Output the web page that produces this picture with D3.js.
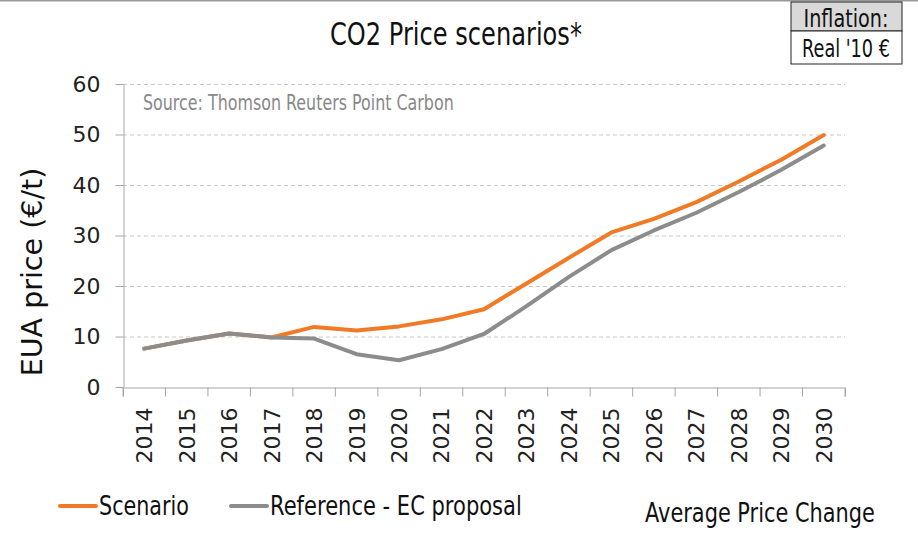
<!DOCTYPE html>
<meta charset="utf-8">
<head>
  <style>
    body { margin: 0; background: #fff; }
    svg text { font-family: "DejaVu Sans", sans-serif; }
    .num { font-size: 22px; fill: #222; }
    .grid line { stroke: #c8c8c8; stroke-dasharray: 4,3; }
    .axis path, .axis line { stroke: #a6a6a6; }
  </style>
  <script src="https://cdn.jsdelivr.net/npm/d3@7"></script>
</head>
<body>
  <svg width="918" height="533"></svg>
  <script>

    var years = ["2014","2015","2016","2017","2018","2019","2020","2021","2022",
                 "2023","2024","2025","2026","2027","2028","2029","2030"]
    var scenario  = [7.6, 9.2, 10.6, 9.8, 11.9, 11.2, 12.0, 13.4, 15.4, 20.5, 25.6, 30.6, 33.3, 36.6, 40.7, 45.0, 49.9]
    var reference = [7.6, 9.2, 10.6, 9.8, 9.6, 6.5, 5.3, 7.5, 10.5, 16.0, 21.8, 27.1, 31.0, 34.5, 38.6, 43.0, 47.8]
    var yTicks = [0, 10, 20, 30, 40, 50, 60]

    var svg = d3.select("svg")

    var x = d3.scaleBand().domain(years).range([123, 845])
    var y = d3.scaleLinear().domain([0, 60]).range([387, 84])

    // the original font is a condensed one: squeeze DejaVu horizontally to the same width
    function narrowText(parent, txt, px, py, size, w, anchor) {
      var t = parent.append("text")
        .attr("font-size", size + "px")
        .attr("text-anchor", anchor || "start")
        .attr("fill", "#111")
        .text(txt)
      var sx = w / t.node().getComputedTextLength()
      t.attr("transform", "translate(" + px + "," + py + ") scale(" + sx + ",1)")
      return t
    }

    // top rule
    svg.append("line")
      .attr("x1", 0).attr("x2", 918).attr("y1", 0.75).attr("y2", 0.75)
      .attr("stroke", "#999").attr("stroke-width", 1.5)

    // title
    narrowText(svg, "CO2 Price scenarios*", 456, 45, 32, 252, "middle")

    // inflation box
    var box = svg.append("g")
    box.append("rect").attr("x", 791).attr("y", 2).attr("width", 111).attr("height", 29)
      .attr("fill", "#d9d9d9").attr("stroke", "#222")
    box.append("rect").attr("x", 791).attr("y", 31).attr("width", 111).attr("height", 33)
      .attr("fill", "#fff").attr("stroke", "#222")
    narrowText(box, "Inflation:", 846, 27, 24, 85, "middle")
    narrowText(box, "Real '10 €", 846, 57, 24, 88, "middle")

    // gridlines
    svg.append("g")
      .attr("class", "grid")
      .selectAll("line")
      .data(yTicks.slice(1))
      .enter().append("line")
      .attr("x1", 123).attr("x2", 845)
      .attr("y1", function(d) { return y(d) + 0.5 })
      .attr("y2", function(d) { return y(d) + 0.5 })

    // y axis
    var yAxis = svg.append("g")
      .attr("class", "axis")
      .attr("transform", "translate(123.5,0)")
      .call(d3.axisLeft(y).tickValues(yTicks).tickSize(8).tickSizeOuter(0).tickPadding(15))
    yAxis.selectAll("text").attr("class", "num").attr("font-size", null).attr("font-family", null)

    // x axis
    var xAxis = svg.append("g")
      .attr("class", "axis")
      .attr("transform", "translate(0,387.5)")
      .call(d3.axisBottom(x).tickSize(9).tickSizeOuter(9))
    xAxis.selectAll(".tick line")
      .attr("transform", function() { return "translate(" + (-x.bandwidth() / 2) + ",0)" })
    xAxis.append("line")
      .attr("x1", 845).attr("x2", 845).attr("y1", 0).attr("y2", 9)
      .attr("stroke", "#a6a6a6")
    xAxis.selectAll(".tick text")
      .attr("class", "num")
      .attr("font-size", null).attr("font-family", null)
      .attr("text-anchor", "end")
      .attr("transform", "translate(0,20) rotate(-90)")
      .attr("x", 0).attr("y", 0).attr("dy", "0.36em")

    svg.selectAll(".axis .domain").attr("stroke", "#a6a6a6")

    // y title
    svg.append("text")
      .attr("transform", "translate(42,272) rotate(-90)")
      .attr("text-anchor", "middle")
      .attr("font-size", "28.5px")
      .attr("fill", "#111")
      .text("EUA price (€/t)")

    // source
    narrowText(svg, "Source: Thomson Reuters Point Carbon", 143, 110, 20.5, 311)
      .attr("fill", "#888")

    // lines
    var line = d3.line()
      .x(function(d, i) { return x(years[i]) + x.bandwidth() / 2 })
      .y(function(d) { return y(d) })

    svg.append("path")
      .datum(scenario)
      .attr("d", line)
      .attr("fill", "none")
      .attr("stroke", "#f07a25")
      .attr("stroke-width", 4)
      .attr("stroke-linecap", "round")
      .attr("stroke-linejoin", "round")

    svg.append("path")
      .datum(reference)
      .attr("d", line)
      .attr("fill", "none")
      .attr("stroke", "#8c8c8c")
      .attr("stroke-width", 4)
      .attr("stroke-linecap", "round")
      .attr("stroke-linejoin", "round")

    // legend
    var legend = [
      { name: "Scenario", color: "#f07a25", x: 60, w: 90 },
      { name: "Reference - EC proposal", color: "#8c8c8c", x: 231, w: 252 }
    ]
    var lg = svg.append("g").selectAll("g").data(legend).enter().append("g")
    lg.append("line")
      .attr("x1", function(d) { return d.x }).attr("x2", function(d) { return d.x + 36 })
      .attr("y1", 506).attr("y2", 506)
      .attr("stroke", function(d) { return d.color })
      .attr("stroke-width", 4).attr("stroke-linecap", "round")
    lg.each(function(d) {
      narrowText(d3.select(this), d.name, d.x + 39, 515, 27, d.w)
    })

    narrowText(svg, "Average Price Change", 645, 522, 27, 230)

  </script>
</body>
